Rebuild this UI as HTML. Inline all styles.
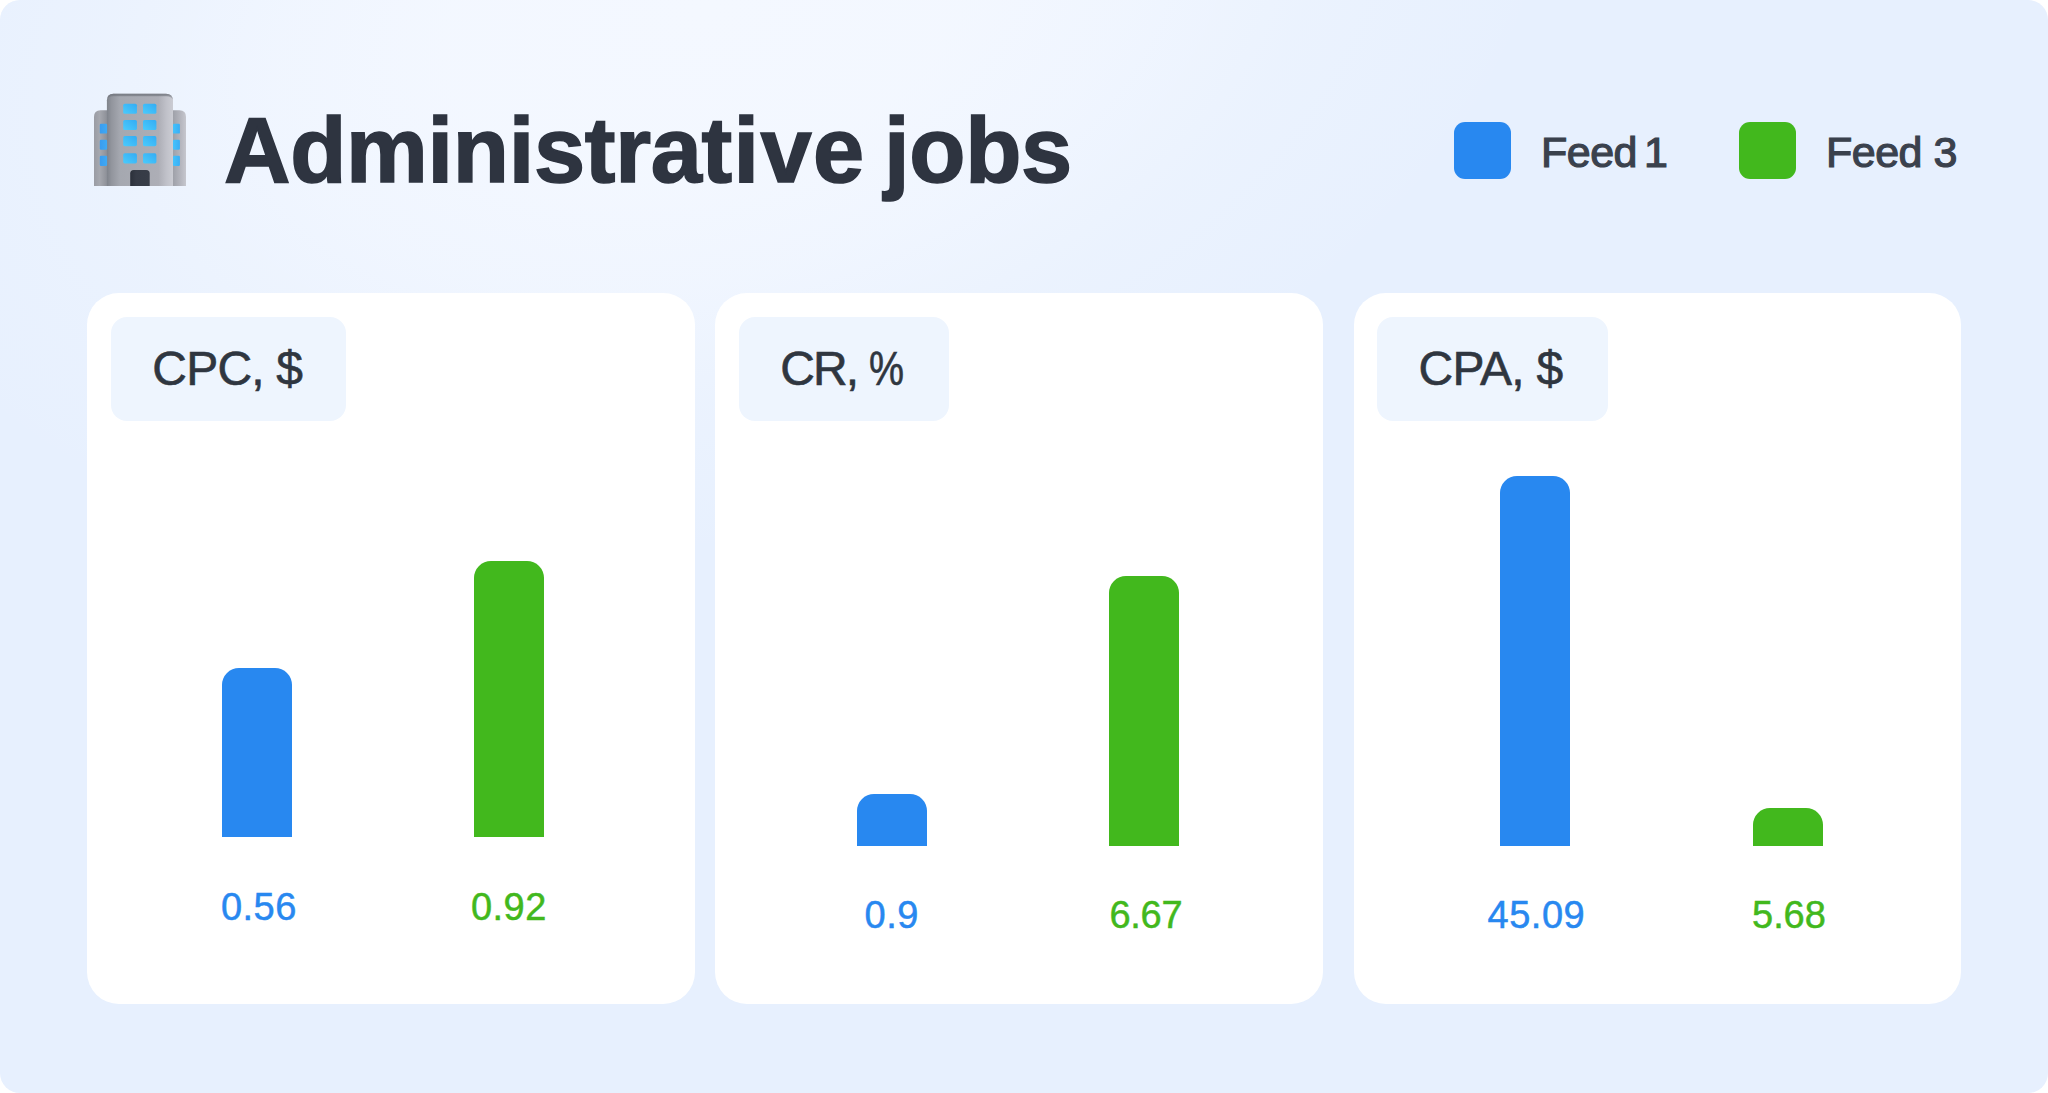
<!DOCTYPE html>
<html lang="en">
<head>
<meta charset="utf-8">
<title>Administrative jobs</title>
<style>
  html, body { margin: 0; padding: 0; background: #ffffff; }
  body { width: 2048px; height: 1093px; overflow: hidden; position: relative;
         font-family: "Liberation Sans", sans-serif; }
  .stage { position: absolute; left: 0; top: 0; width: 2048px; height: 1093px;
           border-radius: 20px; overflow: hidden; background: #e7f0fe; }
  .glow { position: absolute; left: -300px; top: 0; width: 2648px; height: 1093px; transform: skewX(-20deg); transform-origin: 0 0;
          background:
            radial-gradient(ellipse 830px 560px at 1010px 10px, rgba(244,248,255,1) 0%, rgba(244,248,255,0.93) 30%, rgba(244,248,255,0.7) 50%, rgba(244,248,255,0.3) 72%, rgba(244,248,255,0) 100%);
        }
  .abs { position: absolute; white-space: nowrap; line-height: 1; transform-origin: 0 0; }
  .title { left: 224px; top: 104px; font-size: 92px; letter-spacing: -0.3px; font-weight: 700; color: #2e3440; -webkit-text-stroke: 1.6px #2e3440; }
  .sw { position: absolute; top: 122px; width: 57px; height: 57px; border-radius: 11px; }
  .blue { background: #2888f0; }
  .green { background: #42b81d; }
  .leg { top: 130.5px; font-size: 43px; font-weight: 400; color: #3a414d; letter-spacing: -0.5px; -webkit-text-stroke: 1.2px #3a414d; }
  .card { position: absolute; top: 293px; height: 711px; background: #ffffff; border-radius: 32px; }
  .pill { position: absolute; top: 317px; height: 104px; background: #eef5fe; border-radius: 16px; }
  .lbl { top: 345px; font-size: 48px; letter-spacing: -0.8px; -webkit-text-stroke: 0.6px #2f3640; color: #2f3640; }
  .bar { position: absolute; width: 70px; border-radius: 17px 17px 0 0; }
  .val { font-size: 38px; letter-spacing: 0.5px; -webkit-text-stroke: 0.5px currentColor; width: 200px; text-align: center; }
  .tb { color: #2888f0; }
  .tg { color: #42b81d; }
</style>
</head>
<body>
<div class="stage">
  <div class="glow"></div>

  <!-- building icon -->
  <svg class="abs" style="left:90px;top:90px" width="100" height="100" viewBox="90 90 100 100">
    <defs>
      <linearGradient id="gTower" x1="0" y1="0" x2="1" y2="0">
        <stop offset="0" stop-color="#7f838b"/>
        <stop offset="0.07" stop-color="#92959d"/>
        <stop offset="0.2" stop-color="#a5a8b0"/>
        <stop offset="0.78" stop-color="#adaeb6"/>
        <stop offset="0.9" stop-color="#c0c1c9"/>
        <stop offset="1" stop-color="#cbccd3"/>
      </linearGradient>
      <linearGradient id="gTop" x1="0" y1="0" x2="0" y2="1">
        <stop offset="0" stop-color="#6f737b" stop-opacity="0.85"/>
        <stop offset="1" stop-color="#6f737b" stop-opacity="0"/>
      </linearGradient>
      <linearGradient id="gWingL" x1="0" y1="0" x2="1" y2="0">
        <stop offset="0" stop-color="#9a9ca4"/>
        <stop offset="0.35" stop-color="#a6a8af"/>
        <stop offset="1" stop-color="#83868e"/>
      </linearGradient>
      <linearGradient id="gWingR" x1="0" y1="0" x2="1" y2="0">
        <stop offset="0" stop-color="#9c9ea6"/>
        <stop offset="0.6" stop-color="#b4b5bd"/>
        <stop offset="1" stop-color="#c6c7ce"/>
      </linearGradient>
      <linearGradient id="gWin" x1="1" y1="0" x2="0" y2="1">
        <stop offset="0" stop-color="#33acf4"/>
        <stop offset="1" stop-color="#4bcbfc"/>
      </linearGradient>
      <linearGradient id="gWinL" x1="0" y1="0" x2="1" y2="0">
        <stop offset="0" stop-color="#3a9cee"/>
        <stop offset="1" stop-color="#3fa9f4"/>
      </linearGradient>
      <linearGradient id="gWinR" x1="0" y1="0" x2="1" y2="0">
        <stop offset="0" stop-color="#45c2fb"/>
        <stop offset="1" stop-color="#39aef5"/>
      </linearGradient>
      <linearGradient id="gDoor" x1="0" y1="0" x2="1" y2="0">
        <stop offset="0" stop-color="#2b303a"/>
        <stop offset="0.3" stop-color="#363b46"/>
        <stop offset="1" stop-color="#383d48"/>
      </linearGradient>
    </defs>
    <path d="M94 186 V117 Q94 110.3 100.5 110.3 H110 V186 Z" fill="url(#gWingL)"/>
    <path d="M172 186 V110.3 H179.5 Q186 110.3 186 117 V186 Z" fill="url(#gWingR)"/>
    <path d="M106.9 186 V100.2 Q106.9 93.7 113.4 93.7 H166 Q173 93.7 173 100.7 V186 Z" fill="url(#gTower)"/>
    <path d="M106.9 100.2 Q106.9 93.7 113.4 93.7 H166 Q173 93.7 173 100.7 V101 Q172.5 96.2 166 96.2 H113.4 Q107.4 96.2 106.9 101 Z" fill="url(#gTop)"/>
    <g fill="url(#gWin)">
      <rect x="123.2" y="103.7" width="13.7" height="10.1" rx="1.6"/>
      <rect x="143" y="103.7" width="13.4" height="10.1" rx="1.6"/>
      <rect x="123.2" y="120" width="13.7" height="10.1" rx="1.6"/>
      <rect x="143" y="120" width="13.4" height="10.1" rx="1.6"/>
      <rect x="123.2" y="136.1" width="13.7" height="10.1" rx="1.6"/>
      <rect x="143" y="136.1" width="13.4" height="10.1" rx="1.6"/>
      <rect x="123.2" y="153.3" width="13.7" height="10.1" rx="1.6"/>
      <rect x="143" y="153.3" width="13.4" height="10.1" rx="1.6"/>
    </g>
    <g fill="url(#gWinL)">
      <rect x="99.8" y="123.7" width="7.3" height="9.9" rx="1.2"/>
      <rect x="99.8" y="139.8" width="7.3" height="9.9" rx="1.2"/>
      <rect x="99.8" y="155.8" width="7.3" height="10.2" rx="1.2"/>
    </g>
    <g fill="url(#gWinR)">
      <rect x="173" y="123.7" width="6.9" height="9.9" rx="1.2"/>
      <rect x="173" y="139.8" width="6.9" height="9.9" rx="1.2"/>
      <rect x="173" y="155.8" width="6.9" height="10.2" rx="1.2"/>
    </g>
    <path d="M130.2 186 V173.5 Q130.2 170 133.7 170 H146.2 Q149.7 170 149.7 173.5 V186 Z" fill="url(#gDoor)"/>
  </svg>

  <div class="abs title" id="title">Administra<span style="letter-spacing:1.4px">tive</span><span style="margin-left:-6.9px"> jobs</span></div>

  <div class="sw blue" style="left:1454px"></div>
  <div class="abs leg" id="leg1" style="left:1541px;word-spacing:-4.4px">Feed 1</div>
  <div class="sw green" style="left:1739px"></div>
  <div class="abs leg" id="leg2" style="left:1826px">Feed 3</div>

  <!-- card 1 -->
  <div class="card" style="left:87px;width:608px"></div>
  <div class="pill" style="left:111px;width:235px"></div>
  <div class="abs lbl" id="lbl1" style="left:152.3px">CPC, $</div>
  <div class="bar blue" style="left:222px;top:668px;height:169px"></div>
  <div class="bar green" style="left:474px;top:561px;height:276px"></div>
  <div class="abs val tb" id="v1" style="left:158.9px;top:888px">0.56</div>
  <div class="abs val tg" id="v2" style="left:408.9px;top:888px">0.92</div>

  <!-- card 2 -->
  <div class="card" style="left:714.5px;width:608.4px"></div>
  <div class="pill" style="left:739px;width:210px"></div>
  <div class="abs lbl" id="lbl2" style="left:780.3px"><span style="letter-spacing:-2px">CR</span>, <span style="display:inline-block;transform:scaleX(0.82);transform-origin:0 50%;margin-left:-2px">%</span></div>
  <div class="bar blue" style="left:857px;top:794px;height:52px"></div>
  <div class="bar green" style="left:1109px;top:576px;height:270px"></div>
  <div class="abs val tb" id="v3" style="left:791.7px;top:896px">0.9</div>
  <div class="abs val tg" id="v4" style="letter-spacing:-0.3px;left:1045.9px;top:896px">6.67</div>

  <!-- card 3 -->
  <div class="card" style="left:1354px;width:607px"></div>
  <div class="pill" style="left:1377px;width:231px"></div>
  <div class="abs lbl" id="lbl3" style="left:1418.6px">CPA, $</div>
  <div class="bar blue" style="left:1500px;top:476px;height:370px"></div>
  <div class="bar green" style="left:1753px;top:808px;height:38px"></div>
  <div class="abs val tb" id="v5" style="left:1436.4px;top:896px">45.09</div>
  <div class="abs val tg" id="v6" style="letter-spacing:-0.1px;left:1688.9px;top:896px">5.68</div>
</div>
</body>
</html>
